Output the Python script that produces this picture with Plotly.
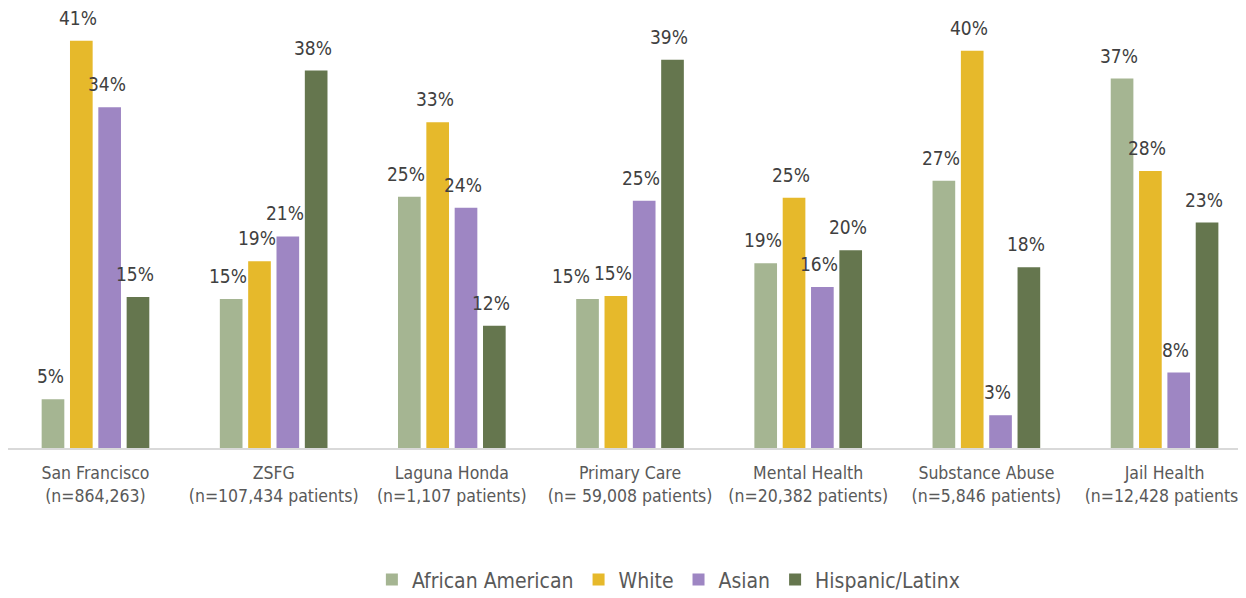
import plotly.graph_objects as go

categories = [
    "San Francisco<br>(n=864,263)",
    "ZSFG<br>(n=107,434 patients)",
    "Laguna Honda<br>(n=1,107 patients)",
    "Primary Care<br>(n= 59,008 patients)",
    "Mental Health<br>(n=20,382 patients)",
    "Substance Abuse<br>(n=5,846 patients)",
    "Jail Health<br>(n=12,428 patients)",
]
african_american = [4.9, 15.0, 25.3, 15.0, 18.6, 26.9, 37.2]
white = [41.0, 18.8, 32.8, 15.3, 25.2, 40.0, 27.9]
asian = [34.3, 21.3, 24.2, 24.9, 16.2, 3.3, 7.6]
hispanic = [15.2, 38.0, 12.3, 39.1, 19.9, 18.2, 22.7]

series = [
    ("African American", african_american, "#a5b592"),
    ("White", white, "#e6b92b"),
    ("Asian", asian, "#9e86c3"),
    ("Hispanic/Latinx", hispanic, "#65764e"),
]

FONT = "DejaVu Sans Condensed, Roboto, sans-serif"

fig = go.Figure()
for name, vals, color in series:
    fig.add_trace(go.Bar(
        name=name, x=categories, y=vals, marker_color=color,
        marker_line_width=0,
    ))

slot_px = 28.3
# label nudges (pixels) to avoid collisions, as in the original
nudge = {(0, 3): -14}
for i, (name, vals, color) in enumerate(series):
    for j, (c, v) in enumerate(zip(categories, vals)):
        fig.add_annotation(
            x=c, y=v, text=f"{round(v)}%", showarrow=False,
            xshift=(i - 1.5) * slot_px - 3 + nudge.get((i, j), 0),
            yshift=10, yanchor="bottom",
            font=dict(family=FONT, size=19, color="#404040"),
        )

fig.update_layout(
    template="none",
    width=1246, height=590,
    margin=dict(l=0, r=0, t=3, b=150, autoexpand=False),
    paper_bgcolor="white", plot_bgcolor="white",
    barmode="group", bargap=0.364, bargroupgap=0.2,
    font=dict(family=FONT, color="#595959"),
    showlegend=True,
    legend=dict(
        orientation="h", x=0.530, xanchor="center", y=-0.302, yanchor="middle",
        font=dict(family=FONT, size=21, color="#595959"),
        traceorder="normal",
    ),
    xaxis=dict(
        range=[-0.491, 6.502], showline=True, linecolor="#d9d9d9", linewidth=2,
        showgrid=False, zeroline=False, ticks="", automargin=False,
        tickfont=dict(family=FONT, size=17.5, color="#595959"),
        ticklabelstandoff=8,
    ),
    yaxis=dict(range=[0, 44], visible=False, showgrid=False, automargin=False),
)

fig.write_html("out.html")
